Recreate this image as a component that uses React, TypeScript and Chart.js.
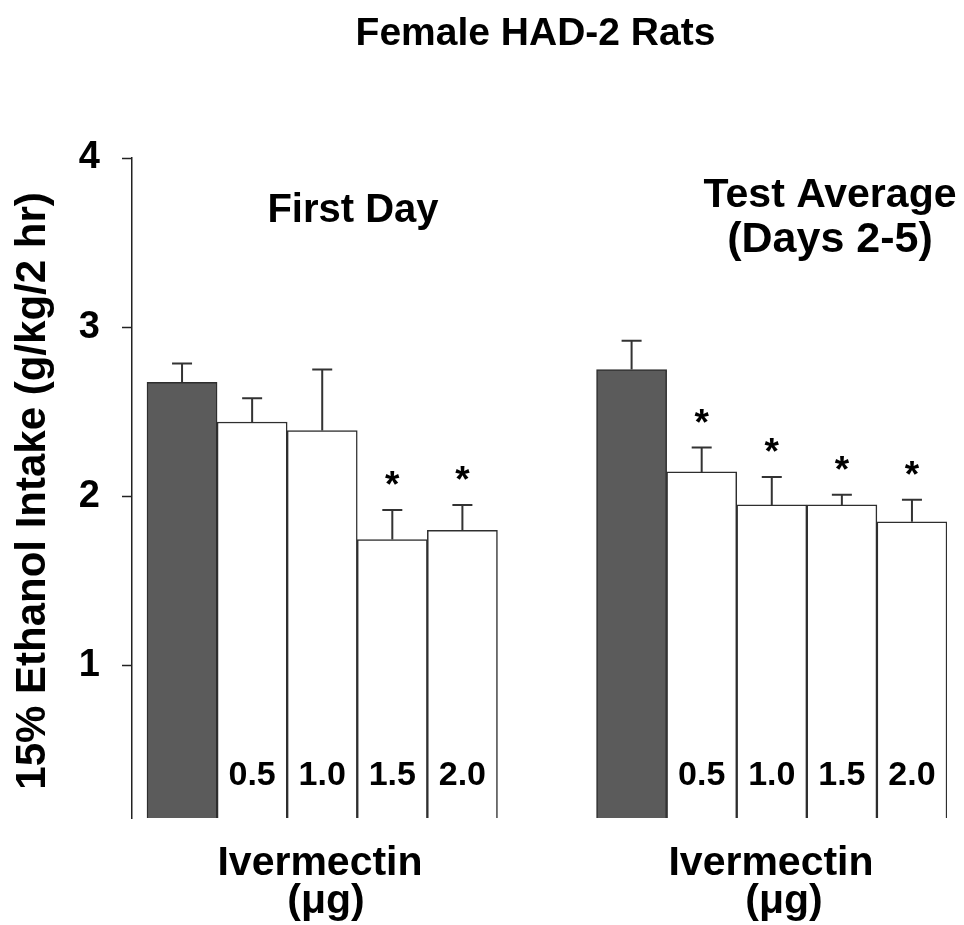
import React, { useEffect, useRef } from 'react';
import { Chart, registerables } from 'chart.js';

Chart.register(...registerables);

// ---------- data ----------
const chartTitle = 'Female HAD-2 Rats';
const yAxisTitle = '15% Ethanol Intake (g/kg/2 hr)';
const panelTitles = [['First Day'], ['Test Average', '(Days 2-5)']];
const xAxisTitle = ['Ivermectin', '(\u03BCg)'];
const doseLabels = ['', '0.5', '1.0', '1.5', '2.0'];
const yTicks = [1, 2, 3, 4];

const firstDayMeans = [2.675, 2.44, 2.39, 1.745, 1.8];
const firstDaySEM = [0.11, 0.14, 0.36, 0.175, 0.15];
const firstDaySig = [false, false, false, true, true];

const testAvgMeans = [2.75, 2.145, 1.95, 1.95, 1.85];
const testAvgSEM = [0.17, 0.145, 0.165, 0.06, 0.13];
const testAvgSig = [false, true, true, true, true];

// ---------- layout ----------
const FONT = '"Liberation Sans", Arial, Helvetica, sans-serif';
const GROUP_OFFSET = [0, 6.414];
const PANEL_TITLE_X = [353, 830];
const X_TITLE_X = [320, 771];
const X_UNIT_X = [326, 784];

export default function App() {
  const ref = useRef<HTMLCanvasElement>(null);

  useEffect(() => {
    const canvas = ref.current;
    if (!canvas) return;

    const groupMeans = [firstDayMeans, testAvgMeans];
    const groupSEM = [firstDaySEM, testAvgSEM];
    const groupSig = [firstDaySig, testAvgSig];

    const toPoints = (means: number[], g: number) =>
      means.map((v, i) => ({ x: i + GROUP_OFFSET[g], y: v }));
    const fills = doseLabels.map((d) => (d === '' ? '#5b5b5b' : '#ffffff'));

    const annot = {
      id: 'annot',
      afterDatasetsDraw(chart: any) {
        const ctx = chart.ctx as CanvasRenderingContext2D;
        const ys = chart.scales.y;
        const area = chart.chartArea;
        ctx.save();
        chart.data.datasets.forEach((_ds: any, di: number) => {
          const meta = chart.getDatasetMeta(di);
          meta.data.forEach((bar: any, i: number) => {
            const top = ys.getPixelForValue(groupMeans[di][i] + groupSEM[di][i]);
            ctx.strokeStyle = '#333';
            ctx.lineWidth = 2;
            ctx.beginPath();
            ctx.moveTo(bar.x, bar.y);
            ctx.lineTo(bar.x, top);
            ctx.moveTo(bar.x - 10, top);
            ctx.lineTo(bar.x + 10, top);
            ctx.stroke();
            ctx.fillStyle = '#000';
            ctx.textAlign = 'center';
            ctx.textBaseline = 'alphabetic';
            if (groupSig[di][i]) {
              ctx.font = `bold 37px ${FONT}`;
              ctx.fillText('*', bar.x, top - 34 + 0.58 * 37);
            }
            if (doseLabels[i]) {
              ctx.font = `bold 34px ${FONT}`;
              ctx.fillText(doseLabels[i], bar.x, area.bottom - 33);
            }
          });
        });

        ctx.fillStyle = '#000';
        ctx.textAlign = 'center';
        ctx.textBaseline = 'alphabetic';
        // main title
        ctx.font = `bold 39px ${FONT}`;
        ctx.fillText(chartTitle, (area.left + area.right) / 2 - 4, 45);
        // panel titles
        ctx.font = `bold 40px ${FONT}`;
        ctx.fillText(panelTitles[0][0], PANEL_TITLE_X[0], 222);
        ctx.font = `bold 41px ${FONT}`;
        ctx.fillText(panelTitles[1][0], PANEL_TITLE_X[1], 207);
        ctx.font = `bold 43px ${FONT}`;
        ctx.fillText(panelTitles[1][1], PANEL_TITLE_X[1], 252);
        // x titles
        ctx.font = `bold 41px ${FONT}`;
        X_TITLE_X.forEach((x, g) => {
          ctx.fillText(xAxisTitle[0], x, 875);
          ctx.fillText(xAxisTitle[1], X_UNIT_X[g], 913);
        });
        // y title
        ctx.save();
        ctx.translate(45, (area.top + area.bottom) / 2 + 3);
        ctx.rotate(-Math.PI / 2);
        ctx.font = `bold 42px ${FONT}`;
        ctx.fillText(yAxisTitle, 0, 0);
        ctx.restore();
        ctx.restore();
      },
    };

    const barStyle = {
      backgroundColor: fills,
      borderColor: '#2e2e2e',
      borderWidth: 1.5,
      borderSkipped: false,
      grouped: false,
      barPercentage: 1,
      categoryPercentage: 1,
    };

    const chart = new Chart(canvas, {
      type: 'bar',
      data: {
        datasets: [
          { label: 'First Day', data: toPoints(firstDayMeans, 0) as any, ...barStyle } as any,
          { label: 'Test Average', data: toPoints(testAvgMeans, 1) as any, ...barStyle } as any,
        ],
      },
      options: {
        responsive: false,
        animation: false,
        devicePixelRatio: 1,
        layout: { padding: { left: 0, top: 158, right: 17, bottom: 107 } },
        plugins: { legend: { display: false }, tooltip: { enabled: false }, title: { display: false } },
        scales: {
          x: {
            type: 'linear',
            display: false,
            offset: false,
            min: -0.714,
            max: 10.914,
            afterBuildTicks: (s: any) => {
              s.ticks = Array.from({ length: 11 }, (_, k) => ({ value: k }));
            },
          },
          y: {
            type: 'linear',
            min: 0.1,
            max: 4,
            beginAtZero: false,
            afterBuildTicks: (s: any) => {
              s.ticks = yTicks.map((v) => ({ value: v }));
            },
            afterFit: (s: any) => {
              s.width = 132;
            },
            border: { display: true, color: '#222', width: 1.5 },
            grid: {
              drawOnChartArea: false,
              drawTicks: true,
              tickLength: 10,
              tickColor: '#222',
              tickWidth: 1.5,
            },
            ticks: {
              padding: 22,
              color: '#000',
              font: { family: FONT, size: 38, weight: 'bold' },
              callback: (v: any) => String(v),
            },
          },
        },
      } as any,
      plugins: [annot],
    });

    return () => chart.destroy();
  }, []);

  return (
    <div style={{ position: 'absolute', left: 0, top: 0, width: 964, height: 925, background: '#fff' }}>
      <canvas ref={ref} width={964} height={925} style={{ width: 964, height: 925, display: 'block' }} />
    </div>
  );
}
